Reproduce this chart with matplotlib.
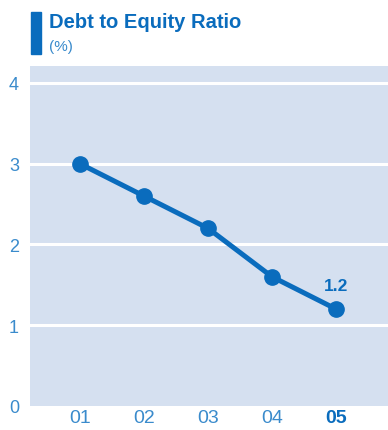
import matplotlib.pyplot as plt
from matplotlib.patches import Rectangle

years = ["01", "02", "03", "04", "05"]
ratio = [3.0, 2.6, 2.2, 1.6, 1.2]
y_ticks = [0, 1, 2, 3, 4]

line_blue = "#0a6cbd"
tick_blue = "#3a8bcc"
bg_blue = "#d5e0f0"

plt.rcParams["font.family"] = ["Liberation Sans", "DejaVu Sans"]

fig = plt.figure(figsize=(3.88, 4.31), dpi=100)
ax = fig.add_axes([30 / 388, 24 / 431, 358 / 388, 340 / 431])
ax.set_facecolor(bg_blue)
for s in ax.spines.values():
    s.set_visible(False)

x = list(range(len(years)))
ax.set_xlim(-0.78, 4.81)
ax.set_ylim(0, 4.21)

for t in y_ticks[1:]:
    ax.axhline(t, xmin=0.004, xmax=1, color="white", lw=2.2, zorder=1)

ax.plot(x, ratio, color=line_blue, lw=3.6, marker="o", ms=11, zorder=3,
        solid_capstyle="round")
ax.text(x[-1], ratio[-1] + 0.2, f"{ratio[-1]:.1f}", ha="center", va="bottom",
        fontsize=12.5, fontweight="bold", color=line_blue)

ax.set_yticks(y_ticks)
ax.set_yticklabels([str(t) for t in y_ticks], fontsize=13, color=tick_blue)
ax.set_xticks(x)
ax.set_xticklabels(years, fontsize=14, color=tick_blue)
ax.get_xticklabels()[-1].set_fontweight("bold")
ax.get_xticklabels()[-1].set_color(line_blue)
ax.tick_params(length=0)
ax.tick_params(axis="y", pad=8)
ax.tick_params(axis="x", pad=2)

# title block with the vertical accent bar
fig.patches.append(Rectangle((31 / 388, 1 - 55 / 431), 10 / 388, 42 / 431,
                             transform=fig.transFigure, color=line_blue))
fig.text(49 / 388, 1 - 22 / 431, "Debt to Equity Ratio", fontsize=14.5,
         fontweight="bold", color=line_blue, va="center", ha="left")
fig.text(49 / 388, 1 - 47 / 431, "(%)", fontsize=11, color=tick_blue,
         va="center", ha="left")

fig.savefig("out.png", dpi=100)
